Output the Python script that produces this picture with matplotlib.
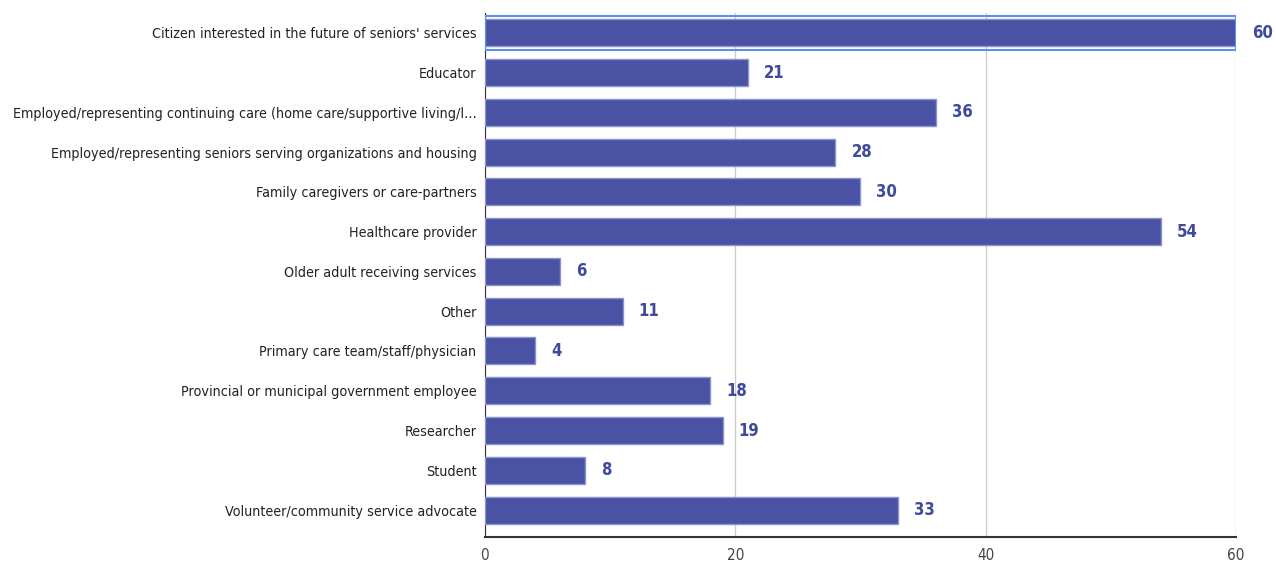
import matplotlib.pyplot as plt

categories = [
    "Citizen interested in the future of seniors' services",
    "Educator",
    "Employed/representing continuing care (home care/supportive living/l\u2026",
    "Employed/representing seniors serving organizations and housing",
    "Family caregivers or care-partners",
    "Healthcare provider",
    "Older adult receiving services",
    "Other",
    "Primary care team/staff/physician",
    "Provincial or municipal government employee",
    "Researcher",
    "Student",
    "Volunteer/community service advocate",
]
counts = [60, 21, 36, 28, 30, 54, 6, 11, 4, 18, 19, 8, 33]
xticks = [0, 20, 40, 60]
highlighted = 0

bar_color = '#4a53a3'
label_color = '#3f4a9c'

plt.rcParams['font.family'] = ['DejaVu Sans']

fig = plt.figure(figsize=(12.76, 5.69), dpi=100)
ax = fig.add_axes([0.380, 0.0568, 0.5887, 0.9204])

y = list(range(len(categories)))
ax.barh(y, counts, height=0.68, color=bar_color, edgecolor='#8a92cf', linewidth=1, zorder=3)
ax.axhspan(highlighted - 0.42, highlighted + 0.42, facecolor='none', edgecolor='#5b8ff0',
           linewidth=1.5, zorder=4)

for yi, v in zip(y, counts):
    ax.annotate(str(v), (v, yi), xytext=(11.5, 0), textcoords='offset points',
                va='center', ha='left', fontsize=12, fontweight='bold',
                color=label_color, fontstretch='condensed', annotation_clip=False)

ax.set_ylim(len(categories) - 0.33, -0.5)
ax.set_xlim(0, 60)
ax.set_xticks(xticks)
ax.set_yticks(y)
ax.set_yticklabels(categories, fontsize=10.3, color='#222222', fontstretch='condensed')
ax.tick_params(axis='x', labelsize=11, labelcolor='#444444', length=0, pad=8)
ax.tick_params(axis='y', length=0, pad=6)
for t in ax.get_xticklabels():
    t.set_fontstretch('condensed')

ax.grid(axis='x', color='#cccccc', linewidth=1, zorder=0)
for s in ['top', 'right']:
    ax.spines[s].set_visible(False)
ax.spines['left'].set_color('#333333')
ax.spines['bottom'].set_color('#333333')
ax.spines['bottom'].set_linewidth(1.5)

fig.savefig('out.png', dpi=100)
